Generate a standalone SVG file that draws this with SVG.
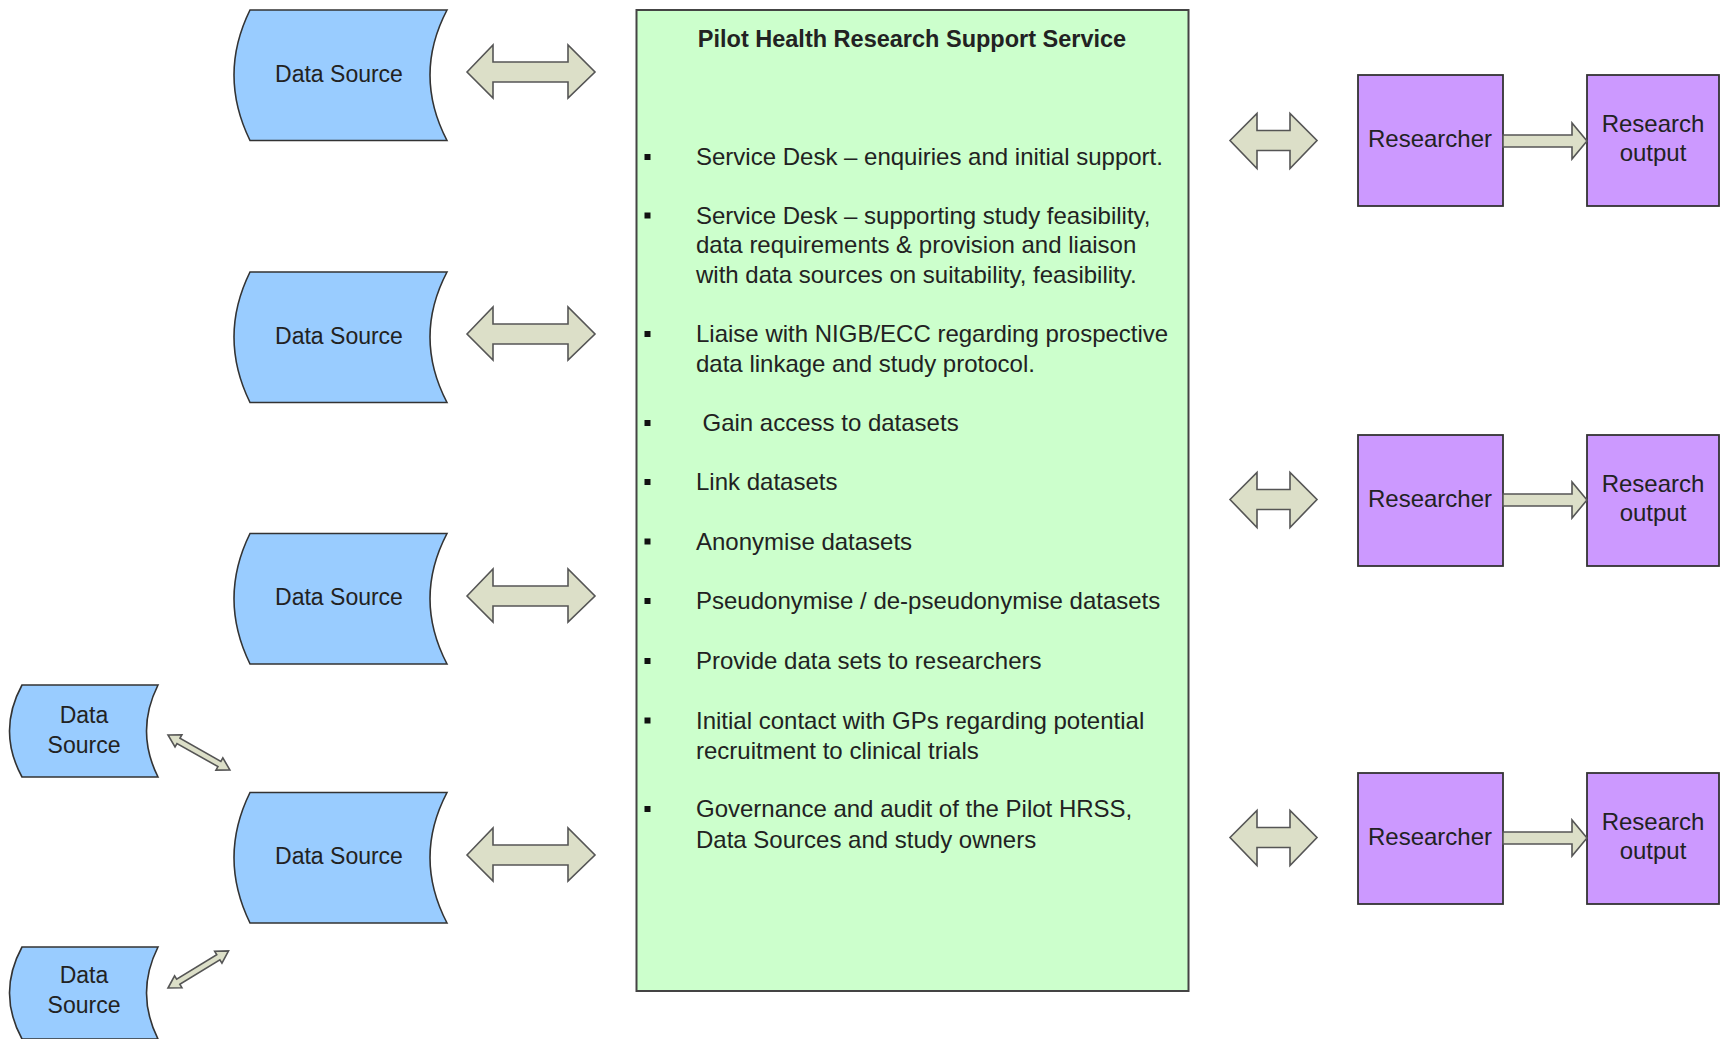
<svg xmlns="http://www.w3.org/2000/svg" width="1721" height="1039" viewBox="0 0 1721 1039">
<style>
text{font-family:"Liberation Sans",Arial,sans-serif;fill:#222}
.ds{fill:#99ccff;stroke:#333;stroke-width:1.6}
.dst{font-size:23px;text-anchor:middle}
.arr{fill:#dcdfc8;stroke:#555;stroke-width:1.6;stroke-linejoin:miter}
.pu{fill:#cc99ff;stroke:#333;stroke-width:1.8}
.pt{font-size:24px;text-anchor:middle}
.bt{font-size:24px}
.bl{fill:#111}
</style>
<defs>
<path id="bigds" d="M250,0 L447,0 Q413,65 447,130.5 L250,130.5 Q218,65 250,0 Z"/>
<path id="smallds" d="M22,0 L158,0 Q135,46 158,92 L22,92 Q-3,46 22,0 Z"/>
<path id="larr" d="M467,0 L493,-27 L493,-10 L568,-10 L568,-27 L595,0 L568,26 L568,10 L493,10 L493,26 Z"/>
<path id="rarr" d="M1230,0 L1257,-27 L1257,-10 L1290,-10 L1290,-27 L1317,0 L1290,28 L1290,10 L1257,10 L1257,28 Z"/>
<path id="oarr" d="M1503,-6 L1572,-6 L1572,-18 L1587,0 L1572,18 L1572,6 L1503,6 Z"/>
<path id="sarr" d="M0,0 L12,-7 L12,-3 L59,-3 L59,-7 L71,0 L59,7 L59,3 L12,3 L12,7 Z"/>
</defs>

<g id="hrss">
<rect x="636.5" y="10" width="552" height="981" fill="#ccffcc" stroke="#444" stroke-width="2"/>
<text x="912" y="47" font-size="23.5" font-weight="bold" text-anchor="middle">Pilot Health Research Support Service</text>
<g class="bl">
<rect x="644.5" y="154" width="6" height="6"/>
<rect x="644.5" y="212.5" width="6" height="6"/>
<rect x="644.5" y="331" width="6" height="6"/>
<rect x="644.5" y="420" width="6" height="6"/>
<rect x="644.5" y="479" width="6" height="6"/>
<rect x="644.5" y="538.5" width="6" height="6"/>
<rect x="644.5" y="598" width="6" height="6"/>
<rect x="644.5" y="658" width="6" height="6"/>
<rect x="644.5" y="717.5" width="6" height="6"/>
<rect x="644.5" y="806" width="6" height="6"/>
</g>
<text class="bt" x="696" y="165">Service Desk – enquiries and initial support.</text>
<text class="bt" x="696" y="223.5">Service Desk – supporting study feasibility,</text>
<text class="bt" x="696" y="253">data requirements &amp; provision and liaison</text>
<text class="bt" x="696" y="283">with data sources on suitability, feasibility.</text>
<text class="bt" x="696" y="342">Liaise with NIGB/ECC regarding prospective</text>
<text class="bt" x="696" y="372">data linkage and study protocol.</text>
<text class="bt" x="702.5" y="431">Gain access to datasets</text>
<text class="bt" x="696" y="490">Link datasets</text>
<text class="bt" x="696" y="549.5">Anonymise datasets</text>
<text class="bt" x="696" y="609">Pseudonymise / de-pseudonymise datasets</text>
<text class="bt" x="696" y="669">Provide data sets to researchers</text>
<text class="bt" x="696" y="728.5">Initial contact with GPs regarding potential</text>
<text class="bt" x="696" y="759">recruitment to clinical trials</text>
<text class="bt" x="696" y="817">Governance and audit of the Pilot HRSS,</text>
<text class="bt" x="696" y="848">Data Sources and study owners</text>
</g>

<g id="ds1" transform="translate(0,10)"><use href="#bigds" class="ds"/><text class="dst" x="339" y="71.5">Data Source</text></g>
<g id="ds2" transform="translate(0,272)"><use href="#bigds" class="ds"/><text class="dst" x="339" y="71.5">Data Source</text></g>
<g id="ds3" transform="translate(0,533.5)"><use href="#bigds" class="ds"/><text class="dst" x="339" y="71.5">Data Source</text></g>
<g id="ds4" transform="translate(0,792.5)"><use href="#bigds" class="ds"/><text class="dst" x="339" y="71.5">Data Source</text></g>
<g id="ds5" transform="translate(0,685)"><use href="#smallds" class="ds"/><text class="dst" x="84" y="38">Data</text><text class="dst" x="84" y="68">Source</text></g>
<g id="ds6" transform="translate(0,947)"><use href="#smallds" class="ds"/><text class="dst" x="84" y="36">Data</text><text class="dst" x="84" y="66">Source</text></g>

<g id="r1"><rect class="pu" x="1358" y="75" width="145" height="131"/><text class="pt" x="1430" y="147">Researcher</text></g>
<g id="o1"><rect class="pu" x="1587" y="75" width="132" height="131"/><text class="pt" x="1653" y="132">Research</text><text class="pt" x="1653" y="161">output</text></g>
<g id="r2"><rect class="pu" x="1358" y="435" width="145" height="131"/><text class="pt" x="1430" y="507">Researcher</text></g>
<g id="o2"><rect class="pu" x="1587" y="435" width="132" height="131"/><text class="pt" x="1653" y="492">Research</text><text class="pt" x="1653" y="521">output</text></g>
<g id="r3"><rect class="pu" x="1358" y="773" width="145" height="131"/><text class="pt" x="1430" y="845">Researcher</text></g>
<g id="o3"><rect class="pu" x="1587" y="773" width="132" height="131"/><text class="pt" x="1653" y="830">Research</text><text class="pt" x="1653" y="859">output</text></g>

<g id="connectors">
<use href="#larr" class="arr" transform="translate(0,72)"/>
<use href="#larr" class="arr" transform="translate(0,334)"/>
<use href="#larr" class="arr" transform="translate(0,596)"/>
<use href="#larr" class="arr" transform="translate(0,855)"/>
<use href="#rarr" class="arr" transform="translate(0,140.5)"/>
<use href="#rarr" class="arr" transform="translate(0,499.5)"/>
<use href="#rarr" class="arr" transform="translate(0,837.5)"/>
<use href="#oarr" class="arr" transform="translate(0,141)"/>
<use href="#oarr" class="arr" transform="translate(0,500)"/>
<use href="#oarr" class="arr" transform="translate(0,838)"/>
<use href="#sarr" class="arr" transform="translate(168,735) rotate(29.4)"/>
<use href="#sarr" class="arr" transform="translate(168,988) rotate(-31.5)"/>
</g>
</svg>
